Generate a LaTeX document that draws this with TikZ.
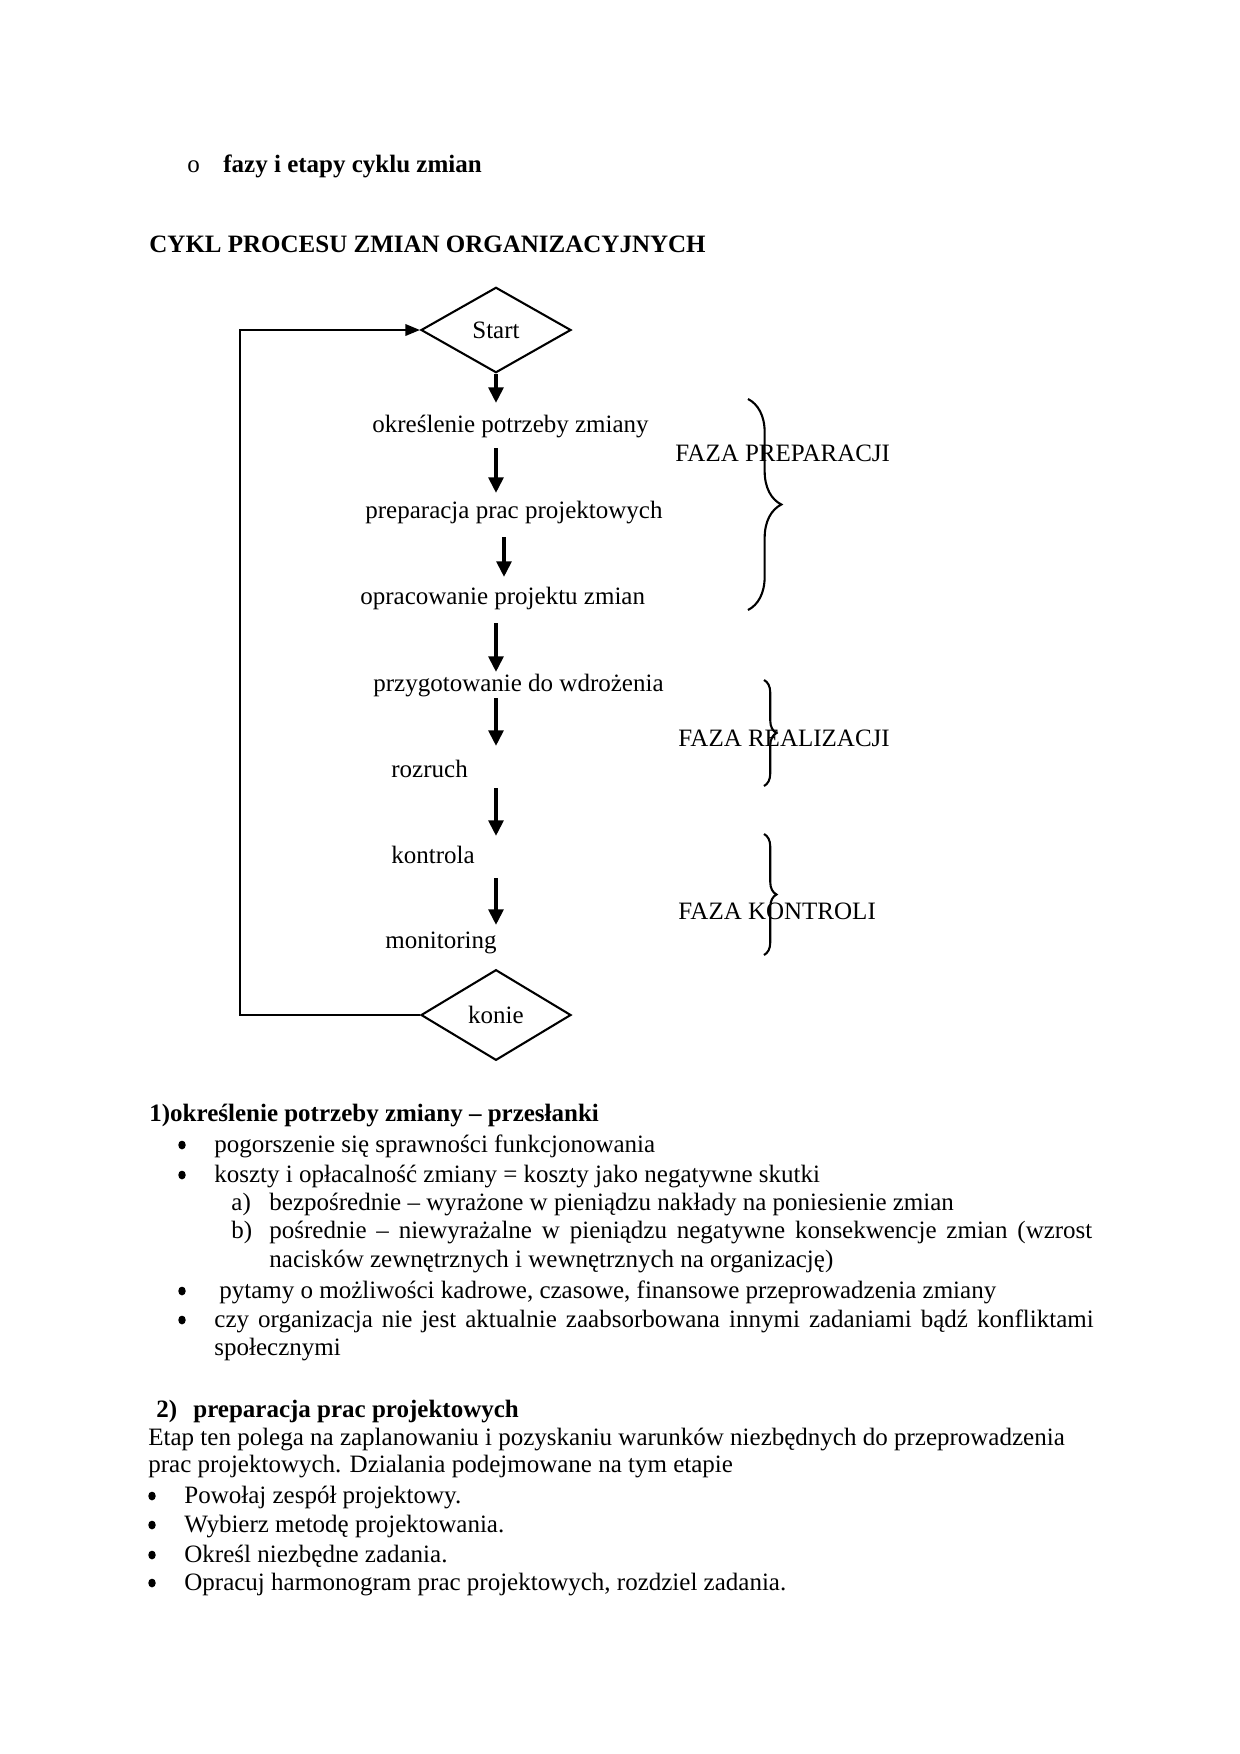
\documentclass[tikz,border=0pt]{standalone}
\usepackage{fontspec}
\setmainfont{Liberation Serif}
\usetikzlibrary{shapes.geometric,arrows.meta,decorations.pathreplacing}
\begin{document}
\begin{tikzpicture}[x=0.48pt,y=-0.48pt,
  txt/.style={anchor=base west, inner sep=0pt, font=\fontsize{12}{14}\selectfont},
  btxt/.style={anchor=base west, inner sep=0pt, font=\fontsize{12}{14}\selectfont\bfseries},
  dia/.style={diamond, draw, line width=1pt, minimum width=72pt, minimum height=41pt, inner sep=0pt, font=\fontsize{12}{14}\selectfont},
  flow/.style={line width=1.9pt, -{Triangle[length=7.5pt,width=7pt]}},
  loophead/.style={line width=1pt, -{Triangle[length=7pt,width=5.5pt]}},
  brc/.style={decorate, decoration={brace, amplitude=#1}, line width=1pt},
  bul/.style={ellipse, fill=black, inner sep=0pt, minimum width=3.6pt, minimum height=4.2pt}
]
\useasboundingbox[fill=white] (0,0) rectangle (1240,1754);

% header
\node[txt] (hb) at (187,172) {o};
\node[btxt] (h1) at (223,172) {fazy i etapy cyklu zmian};
\node[btxt] (h2) at (149,252) {CYKL PROCESU ZMIAN ORGANIZACYJNYCH};

% flowchart
\node[dia] (start) at (496,330) {Start};
\node[dia, minimum height=43.5pt] (konie) at (496,1015) {konie};

\node[txt] (n1) at (372,432) {określenie potrzeby zmiany};
\node[txt] (n2) at (365,518) {preparacja prac projektowych};
\node[txt] (n3) at (360,604) {opracowanie projektu zmian};
\node[txt] (n4) at (373,691) {przygotowanie do wdrożenia};
\node[txt] (n5) at (391,777) {rozruch};
\node[txt] (n6) at (391,863) {kontrola};
\node[txt] (n7) at (385,948) {monitoring};

\coordinate (a0e) at (496,403);
\coordinate (a1s) at (496,448); \coordinate (a1e) at (496,493);
\coordinate (a2s) at (504,537); \coordinate (a2e) at (504,577);
\coordinate (a3s) at (496,623); \coordinate (a3e) at (496,672);
\coordinate (a4s) at (496,698); \coordinate (a4e) at (496,746);
\coordinate (a5s) at (496,788); \coordinate (a5e) at (496,836);
\coordinate (a6s) at (496,878); \coordinate (a6e) at (496,925);

\draw[flow] (start.south) -- (a0e);
\draw[flow] (a1s) -- (a1e);
\draw[flow] (a2s) -- (a2e);
\draw[flow] (a3s) -- (a3e);
\draw[flow] (a4s) -- (a4e);
\draw[flow] (a5s) -- (a5e);
\draw[flow] (a6s) -- (a6e);

\coordinate (lb) at (240,1015);
\draw[loophead] (konie.west) -- (lb) |- (start.west);

% phases
\node[txt] (f1) at (675,461) {FAZA PREPARACJI};
\node[txt] (f2) at (678,746) {FAZA REALIZACJI};
\node[txt] (f3) at (678,919) {FAZA KONTROLI};

\coordinate (b1t) at (748,399); \coordinate (b1b) at (748,610);
\coordinate (b2t) at (764,680); \coordinate (b2b) at (764,786);
\coordinate (b3t) at (764,834); \coordinate (b3b) at (764,955);
\draw[brc=16pt] (b1t) -- (b1b);
\draw[brc=6pt] (b2t) -- (b2b);
\draw[brc=6pt] (b3t) -- (b3b);

% section 1
\node[btxt] (s1) at (149,1121) {1)określenie potrzeby zmiany – przesłanki};
\node[bul] (s1b1) at (182,1145) {};
\node[txt] (s1t1) at (214,1152) {pogorszenie się sprawności funkcjonowania};
\node[bul] (s1b2) at (182,1175) {};
\node[txt] (s1t2) at (214,1182) {koszty i opłacalność zmiany = koszty jako negatywne skutki};
\node[txt] (s1a) at (231,1210) {a)};
\node[txt] (s1at) at (269,1210) {bezpośrednie – wyrażone w pieniądzu nakłady na poniesienie zmian};
\node[txt] (s1b) at (231,1238) {b)};
\node[txt] (s1bt) at (269,1238) {\makebox[395pt][s]{pośrednie – niewyrażalne w pieniądzu negatywne konsekwencje zmian (wzrost}};
\node[txt] (s1bt2) at (269,1267) {nacisków zewnętrznych i wewnętrznych na organizację)};
\node[bul] (s1b3) at (182,1291) {};
\node[txt] (s1t3) at (219,1298) {pytamy o możliwości kadrowe, czasowe, finansowe przeprowadzenia zmiany};
\node[bul] (s1b4) at (182,1320) {};
\node[txt] (s1t4) at (214,1327) {\makebox[422pt][s]{czy organizacja nie jest aktualnie zaabsorbowana innymi zadaniami bądź konfliktami}};
\node[txt] (s1t4b) at (214,1355) {społecznymi};

% section 2
\node[btxt] (s2n) at (156,1417) {2)};
\node[btxt] (s2) at (193,1417) {preparacja prac projektowych};
\node[txt] (s2p1) at (148,1445) {Etap ten polega na zaplanowaniu i pozyskaniu warunków niezbędnych do przeprowadzenia};
\node[txt] (s2p2) at (148,1472) {prac projektowych. Dzialania podejmowane na tym etapie};
\node[bul] (s2b1) at (152,1496) {};
\node[txt] (s2t1) at (184,1503) {Powołaj zespół projektowy.};
\node[bul] (s2b2) at (152,1525) {};
\node[txt] (s2t2) at (184,1532) {Wybierz metodę projektowania.};
\node[bul] (s2b3) at (152,1555) {};
\node[txt] (s2t3) at (184,1562) {Określ niezbędne zadania.};
\node[bul] (s2b4) at (152,1583) {};
\node[txt] (s2t4) at (184,1590) {Opracuj harmonogram prac projektowych, rozdziel zadania.};
\end{tikzpicture}
\end{document}
